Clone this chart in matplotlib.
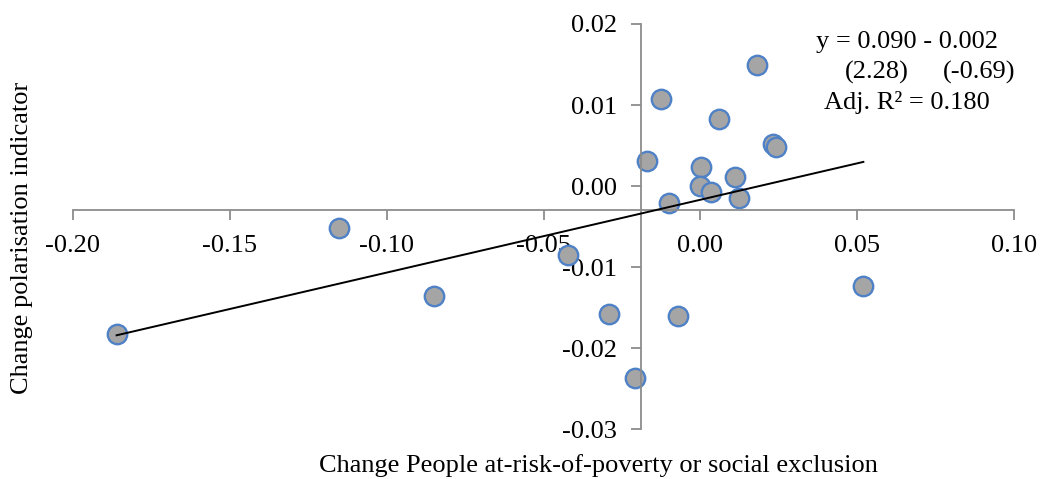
import numpy as np
import matplotlib
matplotlib.use('Agg')
from matplotlib import pyplot as plt

# change in people at-risk-of-poverty or social exclusion (x) vs change in polarisation (y)
poverty_change = [-0.1860, -0.1150, -0.0850, -0.0421, -0.0291, -0.0208, -0.0070, 0.0519,
                  -0.0171, -0.0126, -0.0101, 0.0002, 0.0000, 0.0033, 0.0060, 0.0111,
                  0.0122, 0.0181, 0.0230, 0.0241]
polarisation_change = [-0.01825, -0.00522, -0.01353, -0.00851, -0.01578, -0.02371, -0.01607, -0.01233,
                       0.00312, 0.01069, -0.00213, 0.00238, 0.00000, -0.00070, 0.00822, 0.00107,
                       -0.00148, 0.01488, 0.00518, 0.00485]

x_ticks = [-0.20, -0.15, -0.10, -0.05, 0.00, 0.05, 0.10]
y_ticks = [-0.03, -0.02, -0.01, 0.00, 0.01, 0.02]

plt.rcParams['font.family'] = ['Liberation Serif', 'DejaVu Serif']
fs = 19

fig = plt.figure(figsize=(10.44, 4.79), dpi=100)
ax = fig.add_axes([0.0696, 0.1038, 0.902, 0.8461])

x = np.array(poverty_change)
y = np.array(polarisation_change)

# OLS trend line over the range of the data
slope, intercept = np.polyfit(x, y, 1)
xs = np.array([x.min(), x.max()])
ax.plot(xs, slope * xs + intercept, color='black', lw=1.4, zorder=3)

ax.plot(x, y, 'o', ms=14, mfc='#a5a5a5', mec='#4f81c7', mew=1.7, zorder=2)

ax.set_xlim(-0.20, 0.10)
ax.set_ylim(-0.03, 0.02)
ax.set_xticks(x_ticks)
ax.set_yticks(y_ticks)
ax.set_xticklabels(['%.2f' % v for v in x_ticks])
ax.set_yticklabels(['%.2f' % v for v in y_ticks])

# axes cross inside the plot area
ax.spines['top'].set_visible(False)
ax.spines['right'].set_visible(False)
ax.spines['left'].set_position(('data', -0.019))
ax.spines['bottom'].set_position(('data', -0.003))
for s in ['left', 'bottom']:
    ax.spines[s].set_color('#8c8c8c')
    ax.spines[s].set_linewidth(1.3)
ax.tick_params(colors='#8c8c8c', length=7, width=1.3, labelsize=fs, labelcolor='black')
ax.tick_params(axis='x', pad=11)
ax.tick_params(axis='y', pad=10)

fig.text(22 / 1044, 0.503, 'Change polarisation indicator', rotation=90,
         ha='center', va='center', fontsize=fs)
fig.text(598 / 1044, 1 - 466 / 479, 'Change People at-risk-of-poverty or social exclusion',
         ha='center', va='center', fontsize=fs)

fig.text(907 / 1044, 1 - 42 / 479, 'y = 0.090 - 0.002', ha='center', va='center', fontsize=fs)
fig.text(877 / 1044, 1 - 72 / 479, '(2.28)', ha='center', va='center', fontsize=fs)
fig.text(979 / 1044, 1 - 72 / 479, '(-0.69)', ha='center', va='center', fontsize=fs)
fig.text(907 / 1044, 1 - 102 / 479, 'Adj. R² = 0.180', ha='center', va='center', fontsize=fs)

fig.savefig('out.png', dpi=100)
